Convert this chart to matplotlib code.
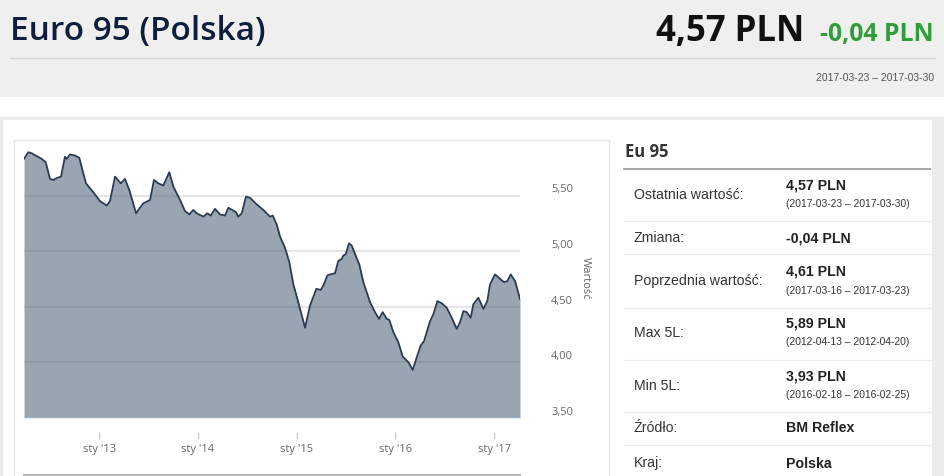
import matplotlib
matplotlib.use("Agg")
import matplotlib.pyplot as plt
from matplotlib.patches import Rectangle

# Euro 95 (Polska) - tygodniowe ceny
years = [2012.237, 2012.281, 2012.315, 2012.416, 2012.457, 2012.501, 2012.534, 2012.574,
         2012.612, 2012.652, 2012.670, 2012.703, 2012.754, 2012.797, 2012.838, 2012.865,
         2012.939, 2013.007, 2013.075, 2013.108, 2013.159, 2013.217, 2013.260, 2013.304,
         2013.372, 2013.395, 2013.446, 2013.514, 2013.554, 2013.598, 2013.648, 2013.709,
         2013.750, 2013.818, 2013.868, 2013.912, 2013.952, 2013.987, 2014.054, 2014.094,
         2014.129, 2014.172, 2014.223, 2014.274, 2014.307, 2014.385, 2014.408, 2014.443,
         2014.486, 2014.527, 2014.595, 2014.662, 2014.729, 2014.757, 2014.797, 2014.831,
         2014.881, 2014.925, 2014.966, 2015.016, 2015.084, 2015.135, 2015.199, 2015.243,
         2015.270, 2015.310, 2015.337, 2015.388, 2015.421, 2015.456, 2015.472, 2015.496,
         2015.530, 2015.557, 2015.601, 2015.634, 2015.675, 2015.743, 2015.793, 2015.834,
         2015.871, 2015.912, 2015.938, 2015.979, 2016.029, 2016.074, 2016.131, 2016.175,
         2016.222, 2016.256, 2016.290, 2016.351, 2016.384, 2016.425, 2016.469, 2016.520,
         2016.570, 2016.621, 2016.655, 2016.688, 2016.722, 2016.763, 2016.789, 2016.840,
         2016.891, 2016.931, 2016.958, 2017.009, 2017.060, 2017.100, 2017.134, 2017.168,
         2017.212, 2017.262]
prices = [5.83, 5.89, 5.88, 5.83, 5.80, 5.65, 5.64, 5.66, 5.67, 5.85, 5.83, 5.87, 5.86, 5.84,
          5.70, 5.61, 5.53, 5.45, 5.41, 5.45, 5.67, 5.61, 5.65, 5.55, 5.34, 5.37, 5.43, 5.46,
          5.64, 5.61, 5.59, 5.71, 5.58, 5.46, 5.36, 5.33, 5.37, 5.34, 5.31, 5.34, 5.32, 5.38,
          5.33, 5.32, 5.39, 5.35, 5.31, 5.34, 5.49, 5.48, 5.42, 5.37, 5.31, 5.32, 5.24, 5.13,
          5.03, 4.90, 4.70, 4.54, 4.31, 4.51, 4.66, 4.65, 4.69, 4.78, 4.79, 4.80, 4.91, 4.93,
          4.96, 4.97, 5.07, 5.05, 4.95, 4.88, 4.72, 4.54, 4.45, 4.39, 4.45, 4.39, 4.38, 4.27,
          4.18, 4.05, 4.00, 3.93, 4.06, 4.15, 4.19, 4.37, 4.43, 4.55, 4.53, 4.49, 4.40, 4.30,
          4.36, 4.46, 4.45, 4.40, 4.52, 4.58, 4.48, 4.55, 4.70, 4.79, 4.75, 4.72, 4.73, 4.79,
          4.73, 4.57]

x_ticks = [2013, 2014, 2015, 2016, 2017]
x_labels = ["sty '13", "sty '14", "sty '15", "sty '16", "sty '17"]
y_ticks = [3.5, 4.0, 4.5, 5.0, 5.5]
y_labels = ["3,50", "4,00", "4,50", "5,00", "5,50"]

# tabela po prawej
row_labels = ["Ostatnia wartość:", "Zmiana:", "Poprzednia wartość:", "Max 5L:",
              "Min 5L:", "Źródło:", "Kraj:"]
row_values = ["4,57 PLN", "-0,04 PLN", "4,61 PLN", "5,89 PLN", "3,93 PLN",
              "BM Reflex", "Polska"]
row_dates = ["(2017-03-23 – 2017-03-30)", "", "(2017-03-16 – 2017-03-23)",
             "(2012-04-13 – 2012-04-20)", "(2016-02-18 – 2016-02-25)", "", ""]

W, H = 945, 476
fig = plt.figure(figsize=(W / 100, H / 100), dpi=100)

# tło strony w pikselach
bg = fig.add_axes([0, 0, 1, 1])
bg.set_xlim(0, W)
bg.set_ylim(H, 0)
bg.axis('off')

bg.add_patch(Rectangle((0, 0), W, 97, color='#efefef', lw=0))
bg.plot([10, 935], [58, 58], color='#d6d6d6', lw=1)
bg.add_patch(Rectangle((0, 117), W, H - 117, color='#ececec', lw=0))
bg.add_patch(Rectangle((2.5, 120), 929.5, H - 120, color='white', lw=0))
bg.add_patch(Rectangle((14, 139.5), 595, H, facecolor='white', edgecolor='#e6e6e6', lw=1))
bg.plot([24, 520], [475, 475], color='#b5b5b5', lw=1.5)

bg.text(10, 32, "Euro 95 (Polska)", fontsize=24, color='#0f1e3c',
        family='Open Sans', fontweight='semibold', va='center', ha='left')
bg.text(804, 32, "4,57 PLN", fontsize=25, color='#111111',
        family='Open Sans', fontweight='bold', va='center', ha='right')
bg.text(934, 34, "-0,04 PLN", fontsize=17.8, color='#2f9e3a',
        family='Open Sans', fontweight='bold', va='center', ha='right')
bg.text(934, 78, "2017-03-23 – 2017-03-30", fontsize=7.5, color='#555555',
        family='Liberation Sans', va='center', ha='right')

# panel z tabelą
bg.text(625, 152, "Eu 95", fontsize=12, color='#333333', family='Open Sans',
        fontweight='bold', va='center', ha='left')
bg.plot([624, 930], [168.5, 168.5], color='#aaaaaa', lw=1.5)
label_y = [195, 238.5, 281.5, 333, 386.5, 428.5, 463.5]
sep_y = [221, 254, 307.5, 359.5, 412, 445]
for yy in sep_y:
    bg.plot([624, 930], [yy, yy], color='#ececec', lw=1)
for lab, val, dt, yy in zip(row_labels, row_values, row_dates, label_y):
    bg.text(634, yy, lab, fontsize=10.2, color='#333333', family='Liberation Sans',
            va='center', ha='left')
    if dt:
        bg.text(786, yy - 10, val, fontsize=10.2, color='#222222', family='Liberation Sans',
                fontweight='bold', va='center', ha='left')
        bg.text(786, yy + 9, dt, fontsize=7.4, color='#333333', family='Liberation Sans',
                va='center', ha='left')
    else:
        bg.text(786, yy, val, fontsize=10.2, color='#222222', family='Liberation Sans',
                fontweight='bold', va='center', ha='left')

# wykres
ax = fig.add_axes([24 / W, (H - 417.7) / H, (520 - 24) / W, (417.7 - 140) / H])
ax.set_facecolor('none')
ax.fill_between(years, prices, 3.5, color='#374d67', alpha=0.5, lw=0, zorder=2)
ax.plot(years, prices, color='#2a3b55', lw=1.3, zorder=3)
ax.set_xlim(years[0], years[-1])
ax.set_ylim(3.5, 6.0)

for v in y_ticks[1:]:
    ax.axhline(v, color='#e6e6e6', lw=1.5, zorder=1)
ax.axhline(3.5, color='#ccd6eb', lw=1, zorder=4)

for s in ['top', 'left', 'right']:
    ax.spines[s].set_visible(False)
ax.spines['bottom'].set_position(('outward', 10))
ax.spines['bottom'].set_visible(False)
ax.set_yticks([])
ax.set_xticks(x_ticks)
ax.set_xticklabels(x_labels, fontsize=8, color='#666666', family='Open Sans')
ax.tick_params(axis='x', length=5, width=1, color='#cccccc', pad=4)

for v, lab in zip(y_ticks, y_labels):
    ax.annotate(lab, xy=(1, v), xycoords=('axes fraction', 'data'),
                xytext=(22.5, 4), textcoords='offset points', ha='left', va='center',
                fontsize=8, color='#666666', family='Open Sans', annotation_clip=False)

bg.text(585, 278, "Wartość", rotation=-90, fontsize=8, color='#666666',
        family='Open Sans', va='center', ha='center')

fig.savefig('out.png', dpi=100)
